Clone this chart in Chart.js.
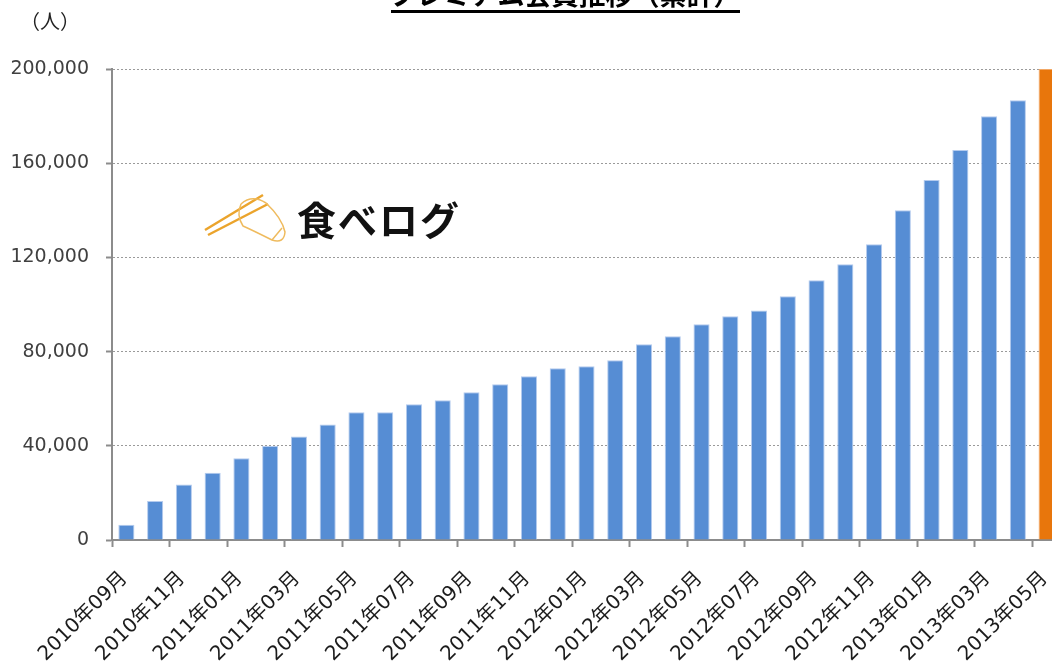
<!DOCTYPE html>
<html>
<head>
<meta charset="utf-8">
<script src="https://cdn.jsdelivr.net/npm/chart.js@4"></script>
<style>
  html, body { margin: 0; padding: 0; background: #ffffff; overflow: hidden; }
  #wrap { width: 1064px; height: 668px; }
</style>
</head>
<body>
<div id="wrap"><canvas id="members-chart" width="1064" height="668"></canvas></div>
<script>
// months (categories)
const months = [
  "2010年09月", "2010年10月", "2010年11月", "2010年12月",
  "2011年01月", "2011年02月", "2011年03月", "2011年04月", "2011年05月", "2011年06月",
  "2011年07月", "2011年08月", "2011年09月", "2011年10月", "2011年11月", "2011年12月",
  "2012年01月", "2012年02月", "2012年03月", "2012年04月", "2012年05月", "2012年06月",
  "2012年07月", "2012年08月", "2012年09月", "2012年10月", "2012年11月", "2012年12月",
  "2013年01月", "2013年02月", "2013年03月", "2013年04月", "2013年05月"
];

// premium members, cumulative
const members = [
  6500, 16600, 23600, 28600,
  34700, 39900, 43900, 49000, 54200, 54200,
  57600, 59300, 62700, 66100, 69500, 72900,
  73800, 76300, 83100, 86500, 91600, 95000,
  97500, 103500, 110300, 117100, 125600, 140000,
  152900, 165600, 179900, 186700, 200000
];

const yTicks = [0, 40000, 80000, 120000, 160000, 200000];

const titleText = "プレミアム会員推移（累計）";
const unitText = "（人）";
const logoText = "食べログ";

const blue = "#568dd4";
const orange = "#e8760c";
const barColors = members.map((v, i) => (i === members.length - 1 ? orange : blue));
const barBorders = members.map((v, i) => (i === members.length - 1 ? "#f2a866" : "#b4cbee"));

const decorations = {
  id: "decorations",
  beforeDatasetsDraw(chart) {
    const ctx = chart.ctx;
    ctx.save();
    // logo box
    ctx.fillStyle = "#ffffff";
    ctx.fillRect(193, 180, 279, 75);
    // chopsticks
    ctx.strokeStyle = "#eba42c";
    ctx.lineWidth = 2.5;
    ctx.beginPath();
    ctx.moveTo(205, 230); ctx.lineTo(263, 195);
    ctx.moveTo(208, 235); ctx.lineTo(268, 204);
    ctx.stroke();
    // hand
    ctx.strokeStyle = "#efbb5e";
    ctx.lineWidth = 1.5;
    ctx.beginPath();
    ctx.moveTo(241, 204);
    ctx.quadraticCurveTo(252, 194, 266, 203);
    ctx.quadraticCurveTo(282, 218, 285, 232);
    ctx.quadraticCurveTo(284, 244, 272, 240);
    ctx.quadraticCurveTo(252, 230, 243, 226);
    ctx.quadraticCurveTo(236, 215, 241, 204);
    ctx.moveTo(272, 240); ctx.lineTo(282, 228);
    ctx.stroke();
    // logo text
    ctx.fillStyle = "#111111";
    ctx.font = "bold 39px 'Noto Sans CJK JP'";
    ctx.textBaseline = "middle";
    ctx.textAlign = "left";
    ctx.letterSpacing = "2px";
    ctx.fillText(logoText, 297, 220);
    ctx.restore();
  },
  afterDraw(chart) {
    const ctx = chart.ctx;
    ctx.save();
    ctx.fillStyle = "#000000";
    ctx.font = "bold 27px 'Noto Sans CJK JP'";
    ctx.textAlign = "center";
    ctx.textBaseline = "alphabetic";
    ctx.fillText(titleText, 565, 5);
    ctx.fillRect(391, 10, 349, 3);
    ctx.fillStyle = "#222222";
    ctx.font = "20px 'Noto Sans CJK JP'";
    ctx.textAlign = "left";
    ctx.textBaseline = "middle";
    ctx.fillText(unitText, 20, 21);
    ctx.restore();
  }
};

const data = {
  labels: months,
  datasets: [
    {
      label: titleText,
      data: members,
      backgroundColor: barColors,
      borderColor: barBorders,
      borderWidth: 1,
      barPercentage: 0.56,
      categoryPercentage: 1.0,
    },
  ],
};

const config = {
  type: "bar",
  data,
  options: {
    responsive: false,
    animation: false,
    layout: { padding: { left: 0, right: 3, top: 69, bottom: 0 } },
    plugins: {
      legend: { display: false },
      tooltip: { enabled: false },
    },
    scales: {
      x: {
        offset: true,
        grid: {
          offset: true,
          drawOnChartArea: false,
          tickLength: 7,
          tickWidth: 2,
          tickColor: (c) => (c.index % 2 === 0 ? "#8c8c8c" : "rgba(0,0,0,0)"),
        },
        border: { color: "#8c8c8c", width: 2 },
        ticks: {
          autoSkip: false,
          minRotation: 45,
          maxRotation: 45,
          padding: 20,
          labelOffset: -2,
          color: "#1c1c1c",
          font: { family: "'DejaVu Sans', 'Noto Sans CJK JP'", size: 20 },
          callback: function (val, i) {
            return i % 2 === 0 ? months[i] : "";
          },
        },
        afterFit: (s) => {
          s.height = 128;
          s.paddingLeft = 0;
          s.paddingRight = 0;
        },
      },
      y: {
        min: 0,
        max: 200000,
        afterBuildTicks: (s) => { s.ticks = yTicks.map((v) => ({ value: v })); },
        grid: {
          color: "#9a9a9a",
          lineWidth: 1,
          tickLength: 6,
          tickWidth: 2,
          tickColor: "#8c8c8c",
        },
        border: { color: "#8c8c8c", width: 2, dash: [2, 2] },
        ticks: {
          padding: 17,
          color: "#404040",
          font: { family: "'DejaVu Sans'", size: 19 },
          callback: (v) => v.toLocaleString("en-US"),
        },
        afterFit: (s) => { s.width = 112; },
      },
    },
  },
  plugins: [decorations],
};

var myChart = new Chart(document.getElementById("members-chart"), config);
</script>
</body>
</html>
